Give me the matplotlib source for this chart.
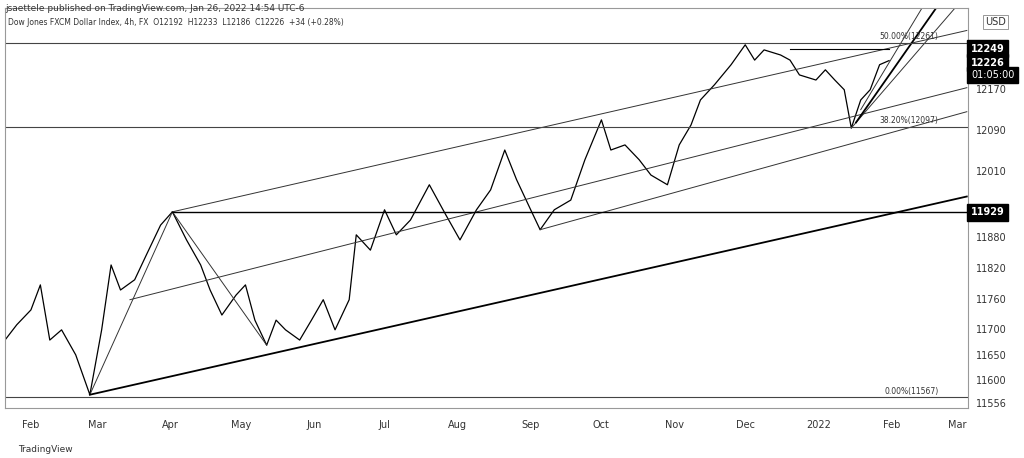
import matplotlib
matplotlib.use("Agg")
import matplotlib.pyplot as plt
import numpy as np

# price path: day offset from 2021-02-01, price
days = [-11,-6,0,4,8,13,19,25,30,34,38,44,49,55,60,66,72,76,81,87,91,95,100,104,108,114,119,124,129,135,138,144,150,155,161,169,176,182,189,195,201,206,212,216,222,229,235,242,246,252,258,263,270,275,280,284,290,297,303,307,311,318,322,326,333,337,341,345,348,352,356,360,364]
prices = [11679,11709,11738,11787,11679,11699,11650,11572,11699,11826,11777,11797,11846,11904,11930,11875,11826,11777,11728,11767,11787,11718,11669,11718,11699,11679,11718,11758,11699,11758,11885,11855,11934,11885,11914,11983,11924,11875,11934,11973,12051,11993,11934,11895,11934,11953,12032,12110,12051,12061,12032,12002,11983,12061,12100,12149,12179,12218,12257,12227,12247,12237,12227,12198,12188,12208,12188,12169,12094,12149,12169,12218,12226]

month_days = [0,28,59,89,120,150,181,212,242,273,303,334,365,393]
month_labels = ["Feb","Mar","Apr","May","Jun","Jul","Aug","Sep","Oct","Nov","Dec","2022","Feb","Mar"]

tick_prices = [12170,12090,12010,11880,11820,11760,11700,11650,11600,11556]
hlines = [12261,12097,11567]
fib_labels = ["50.00%(12261)","38.20%(12097)","0.00%(11567)"]

# trendlines (x0,y0,x1,y1)
trend = [(25,11572,60,11930),(60,11930,100,11669),(60,11930,397,12285),
         (42,11758,397,12173),(216,11895,397,12126),(352,12130,378,12329),
         (348,12094,392,12329)]
bold_trend = [(25,11572,397,11960),(350,12105,384,12329)]

fig = plt.figure(figsize=(10.24,4.58), dpi=100)
ax = fig.add_axes([5/1024, 50/458, 963/1024, 400/458])
ax.set_xlim(-11, 397.5)
ax.set_ylim(11546, 12329)
ax.plot(days, prices, color="black", lw=0.9)
for (x0,y0,x1,y1) in trend:
    ax.plot([x0,x1],[y0,y1], color="#333333", lw=0.7)
for (x0,y0,x1,y1) in bold_trend:
    ax.plot([x0,x1],[y0,y1], color="black", lw=1.3)
for h,l in zip(hlines,fib_labels):
    ax.axhline(h, color="#444444", lw=0.8)
    ax.text(385, h+3, l, fontsize=5.5, ha="right", va="bottom", color="#333333")
ax.plot([60,397.5],[11929,11929], color="black", lw=1.0)
ax.plot([322,364],[12249,12249], color="black", lw=0.8)

ax.set_xticks(month_days)
ax.set_xticklabels(month_labels, fontsize=7, color="#333333")
ax.yaxis.tick_right()
ax.set_yticks(tick_prices)
ax.set_yticklabels([str(p) for p in tick_prices], fontsize=7, color="#333333")
ax.tick_params(length=0, pad=6)
ax.tick_params(axis="x", pad=9)
for s in ax.spines.values():
    s.set_color("#999999"); s.set_linewidth(0.8)

for p, txt in [(12249,"12249"),(12222,"12226"),(11929,"11929")]:
    ax.text(1.003, (p-11546)/(12329-11546), txt, transform=ax.transAxes, fontsize=7,
            fontweight="bold", color="white", va="center",
            bbox=dict(boxstyle="square,pad=0.35", fc="black", ec="black"))
ax.text(1.003, (12198-11546)/(12329-11546), "01:05:00", transform=ax.transAxes, fontsize=7,
        color="white", va="center", bbox=dict(boxstyle="square,pad=0.35", fc="black", ec="black"))

fig.text(5/1024, 1-4/458, "jsaettele published on TradingView.com, Jan 26, 2022 14:54 UTC-6",
         fontsize=6.5, va="top", color="#333333")
fig.text(8/1024, 1-18/458, "Dow Jones FXCM Dollar Index, 4h, FX  O12192  H12233  L12186  C12226  +34 (+0.28%)",
         fontsize=5.5, va="top", color="#333333")
fig.text(985/1024, 1-22/458, "USD", fontsize=7, va="center", color="#333333",
         bbox=dict(boxstyle="square,pad=0.2", fc="white", ec="#888888", lw=0.6))
fig.text(18/1024, 9/458, "TradingView", fontsize=6.5, va="center", color="#333333")
fig.savefig("out.png", dpi=100)
